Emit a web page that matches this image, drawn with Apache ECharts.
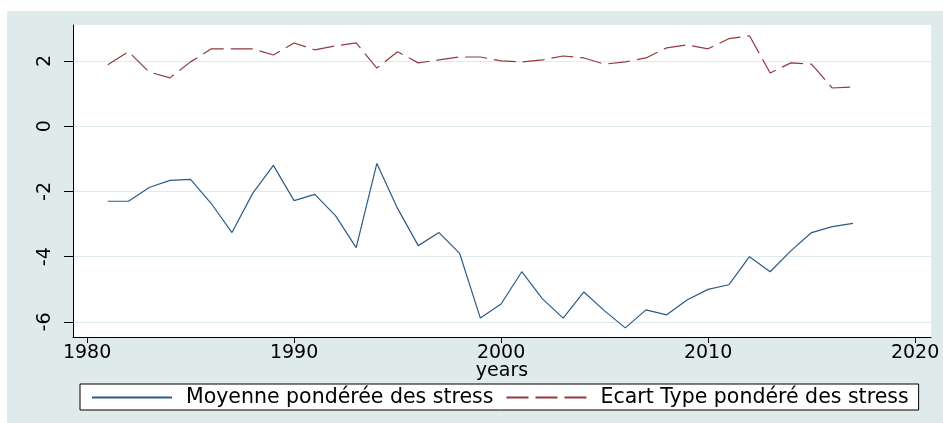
<!DOCTYPE html>
<html>
<head>
<meta charset="utf-8">
<script src="https://cdn.jsdelivr.net/npm/echarts@6/dist/echarts.min.js"></script>
<style>
  html, body { margin: 0; padding: 0; background: #fff; }
  #main { width: 943px; height: 423px; }
</style>
</head>
<body>
<div id="main"></div>
<script>
  var years = [1981, 1982, 1983, 1984, 1985, 1986, 1987, 1988, 1989, 1990,
    1991, 1992, 1993, 1994, 1995, 1996, 1997, 1998, 1999, 2000,
    2001, 2002, 2003, 2004, 2005, 2006, 2007, 2008, 2009, 2010,
    2011, 2012, 2013, 2014, 2015, 2016, 2017]
  var moyenne = [-2.3, -2.3, -1.88, -1.66, -1.63, -2.37, -3.26, -2.06, -1.2, -2.28,
    -2.09, -2.74, -3.72, -1.14, -2.52, -3.66, -3.26, -3.9, -5.88, -5.45,
    -4.46, -5.29, -5.88, -5.08, -5.66, -6.18, -5.63, -5.78, -5.32, -5.0,
    -4.86, -4.0, -4.46, -3.82, -3.26, -3.08, -2.98]
  var ecartType = [1.88, 2.28, 1.66, 1.48, 1.97, 2.37, 2.37, 2.37, 2.18, 2.55,
    2.34, 2.46, 2.55, 1.78, 2.28, 1.94, 2.03, 2.12, 2.12, 2.0,
    1.97, 2.03, 2.15, 2.09, 1.9, 1.97, 2.09, 2.4, 2.49, 2.37,
    2.68, 2.77, 1.63, 1.94, 1.9, 1.17, 1.2]
  var xTicks = [1980, 1990, 2000, 2010, 2020]
  var yTicks = [-6, -4, -2, 0, 2]
  var seriesNames = ['Moyenne pondérée des stress', 'Ecart Type pondéré des stress']

  function pairs (vals) {
    let arr = []
    years.forEach((y, i) => {
      arr.push([y, vals[i]])
    })
    return arr
  }

  var font = 'DejaVu Sans'
  var mychart = echarts.init(document.getElementById('main'))
  var options = {
    backgroundColor: '#dfebeb',
    animation: false,
    graphic: [
      { type: 'rect', shape: { x: 0, y: 0, width: 943, height: 11 }, style: { fill: '#fff' }, silent: true },
      { type: 'rect', shape: { x: 0, y: 0, width: 7, height: 423 }, style: { fill: '#fff' }, silent: true }
    ],
    grid: {
      left: 73,
      top: 25,
      right: 12,
      bottom: 86,
      show: true,
      backgroundColor: '#fff',
      borderWidth: 0
    },
    legend: {
      data: seriesNames,
      left: 80,
      top: 384,
      padding: [3, 10, 2, 11],
      itemWidth: 80,
      itemHeight: 14,
      itemGap: 12,
      backgroundColor: '#fff',
      borderColor: '#000',
      borderWidth: 1,
      itemStyle: { opacity: 0 },
      textStyle: { fontFamily: font, fontSize: 20.5, color: '#000', padding: [0, 0, 0, 9] }
    },
    xAxis: {
      type: 'value',
      min: 1979.32,
      max: 2020.77,
      name: 'years',
      nameLocation: 'middle',
      nameGap: 25,
      nameMoveOverlap: false,
      nameTextStyle: { fontFamily: font, fontSize: 19, color: '#000' },
      axisLine: { show: true, onZero: false, lineStyle: { color: '#000', width: 1 } },
      axisTick: { show: true, length: 6, customValues: xTicks, lineStyle: { color: '#000' } },
      axisLabel: {
        customValues: xTicks,
        margin: 7,
        fontFamily: font,
        fontSize: 19,
        color: '#000',
        formatter: function (v) { return String(v) }
      },
      splitLine: { show: false }
    },
    yAxis: {
      type: 'value',
      min: -6.46,
      max: 3.1,
      axisLine: { show: true, onZero: false, lineStyle: { color: '#000', width: 1 } },
      axisTick: { show: true, length: 9, customValues: yTicks, lineStyle: { color: '#000' } },
      axisLabel: { customValues: yTicks, rotate: 90, margin: 18, fontFamily: font, fontSize: 19, color: '#000' },
      splitLine: { show: true, lineStyle: { color: '#dfebeb', width: 1 } }
    },
    series: [
      {
        name: seriesNames[0],
        type: 'line',
        symbol: 'none',
        data: pairs(moyenne),
        lineStyle: { color: '#2c5b85', width: 1.2 },
        itemStyle: { color: '#2c5b85' }
      },
      {
        name: seriesNames[1],
        type: 'line',
        symbol: 'none',
        data: pairs(ecartType),
        lineStyle: { color: '#93393f', width: 1.2, type: [22, 7] },
        itemStyle: { color: '#93393f' }
      }
    ]
  }
  mychart.setOption(options)
</script>
</body>
</html>
